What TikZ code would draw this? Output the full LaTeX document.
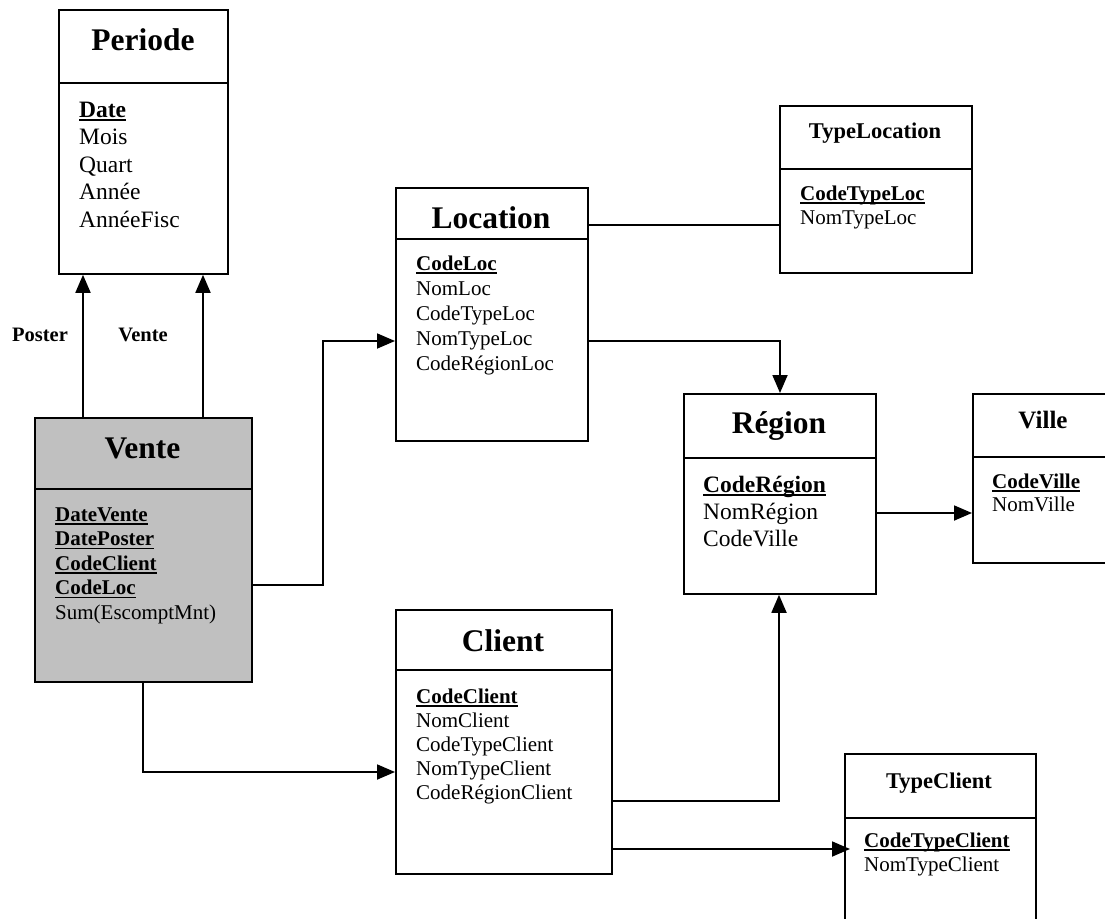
\documentclass[tikz,border=0pt]{standalone}
\usepackage{fontspec}
\setmainfont{Liberation Serif}
\usetikzlibrary{arrows.meta}

% primary key: bold with a heavy underline
\newsavebox\pkbox
\newcommand\pk[1]{\sbox\pkbox{\bfseries #1}\rlap{\usebox\pkbox}\rule[-3.4pt]{\wd\pkbox}{1.6pt}}
% fixed top of the first attribute line
\newcommand\firstline{\rule{0pt}{20pt}}
\definecolor{factgray}{RGB}{192,192,192}

\begin{document}
\begin{tikzpicture}[x=1pt,y=-1pt,
  ent/.style={draw, line width=1.8pt, rectangle, inner sep=0pt, anchor=north west},
  sep/.style={line width=1.8pt},
  bigtitle/.style={font=\fontsize{31.5}{36}\selectfont\bfseries, anchor=base, inner sep=0pt},
  smalltitle/.style={font=\fontsize{22.5}{26}\selectfont\bfseries, anchor=base, inner sep=0pt},
  attrs/.style={anchor=north west, inner sep=0pt, align=left},
  rel/.style={font=\fontsize{20.5}{24}\selectfont\bfseries, anchor=base, inner sep=0pt},
  link/.style={line width=1.8pt},
  arr/.style={link, -{Triangle[length=18pt,width=15pt]}}
]
\useasboundingbox (0,0) rectangle (1105,918);
\clip (0,0) rectangle (1105,918);

% ---------- Periode ----------
\node[ent, minimum width=169pt, minimum height=264pt] (periode) at (58,9) {};
\draw[sep] (periode.west |- 0,83) -- (periode.east |- 0,83);
\node[bigtitle] (periodeT) at (143,50) {Periode};
\node[attrs, font=\fontsize{23.5}{27.5}\selectfont] (periodeA) at (79,97)
  {\firstline\pk{Date}\\Mois\\Quart\\Année\\AnnéeFisc};

% ---------- Vente ----------
\node[ent, fill=factgray, minimum width=217pt, minimum height=264pt] (vente) at (34,417) {};
\draw[sep] (vente.west |- 0,489) -- (vente.east |- 0,489);
\node[bigtitle] (venteT) at (142.5,458) {Vente};
\node[attrs, font=\fontsize{21}{24.5}\selectfont] (venteA) at (55,501)
  {\firstline\pk{DateVente}\\\pk{DatePoster}\\\pk{CodeClient}\\\pk{CodeLoc}\\Sum(EscomptMnt)};

% ---------- Location ----------
\node[ent, minimum width=192pt, minimum height=253pt] (location) at (395,187) {};
\draw[sep] (location.west |- 0,239) -- (location.east |- 0,239);
\node[bigtitle] (locationT) at (491,228) {Location};
\node[attrs, font=\fontsize{21}{25}\selectfont] (locationA) at (416,250)
  {\firstline\pk{CodeLoc}\\NomLoc\\CodeTypeLoc\\NomTypeLoc\\CodeRégionLoc};

% ---------- TypeLocation ----------
\node[ent, minimum width=192pt, minimum height=167pt] (typeloc) at (779,105) {};
\draw[sep] (typeloc.west |- 0,169) -- (typeloc.east |- 0,169);
\node[smalltitle] (typelocT) at (875,138) {TypeLocation};
\node[attrs, font=\fontsize{21}{24}\selectfont] (typelocA) at (800,180)
  {\firstline\pk{CodeTypeLoc}\\NomTypeLoc};

% ---------- Région ----------
\node[ent, minimum width=192pt, minimum height=200pt] (region) at (683,393) {};
\draw[sep] (region.west |- 0,458) -- (region.east |- 0,458);
\node[bigtitle] (regionT) at (779,433) {Région};
\node[attrs, font=\fontsize{23.5}{27}\selectfont] (regionA) at (703,472)
  {\firstline\pk{CodeRégion}\\NomRégion\\CodeVille};

% ---------- Ville ----------
\node[ent, minimum width=142pt, minimum height=169pt] (ville) at (972,393) {};
\draw[sep] (ville.west |- 0,457) -- (ville.east |- 0,457);
\node[smalltitle, font=\fontsize{25}{29}\selectfont\bfseries] (villeT) at (1043,428) {Ville};
\node[attrs, font=\fontsize{21}{23}\selectfont] (villeA) at (992,468)
  {\firstline\pk{CodeVille}\\NomVille};

% ---------- Client ----------
\node[ent, minimum width=216pt, minimum height=264pt] (client) at (395,609) {};
\draw[sep] (client.west |- 0,670) -- (client.east |- 0,670);
\node[bigtitle] (clientT) at (503,651) {Client};
\node[attrs, font=\fontsize{21}{24}\selectfont] (clientA) at (416,683)
  {\firstline\pk{CodeClient}\\NomClient\\CodeTypeClient\\NomTypeClient\\CodeRégionClient};

% ---------- TypeClient ----------
\node[ent, minimum width=191pt, minimum height=200pt] (tclient) at (844,753) {};
\draw[sep] (tclient.west |- 0,818) -- (tclient.east |- 0,818);
\node[smalltitle] (tclientT) at (939,788) {TypeClient};
\node[attrs, font=\fontsize{21}{24}\selectfont] (tclientA) at (864,827)
  {\firstline\pk{CodeTypeClient}\\NomTypeClient};

% ---------- links ----------
% Vente to Periode (two date roles)
\draw[arr] (83,0 |- vente.north) -- (83,0 |- periode.south);
\draw[arr] (203,0 |- vente.north) -- (203,0 |- periode.south);
\node[rel] (lposter) at (40,341) {Poster};
\node[rel] (lvente) at (143,341) {Vente};

% Vente to Location
\draw[arr] (vente.east |- 0,585) -| (323,341) -- (location.west |- 0,341);
% Vente to Client
\draw[arr] (143,0 |- vente.south) |- (client.west |- 0,772);
% Location to TypeLocation
\draw[link] (location.east |- 0,225) -- (typeloc.west |- 0,225);
% Location to Région
\draw[arr] (location.east |- 0,341) -| (780,0 |- region.north);
% Région to Ville
\draw[arr] (region.east |- 0,513) -- (ville.west |- 0,513);
% Client to Région
\draw[arr] (client.east |- 0,801) -| (779,0 |- region.south);
% Client to TypeClient
\draw[arr, shorten >=-6pt] (client.east |- 0,849) -- (tclient.west |- 0,849);
\end{tikzpicture}
\end{document}
